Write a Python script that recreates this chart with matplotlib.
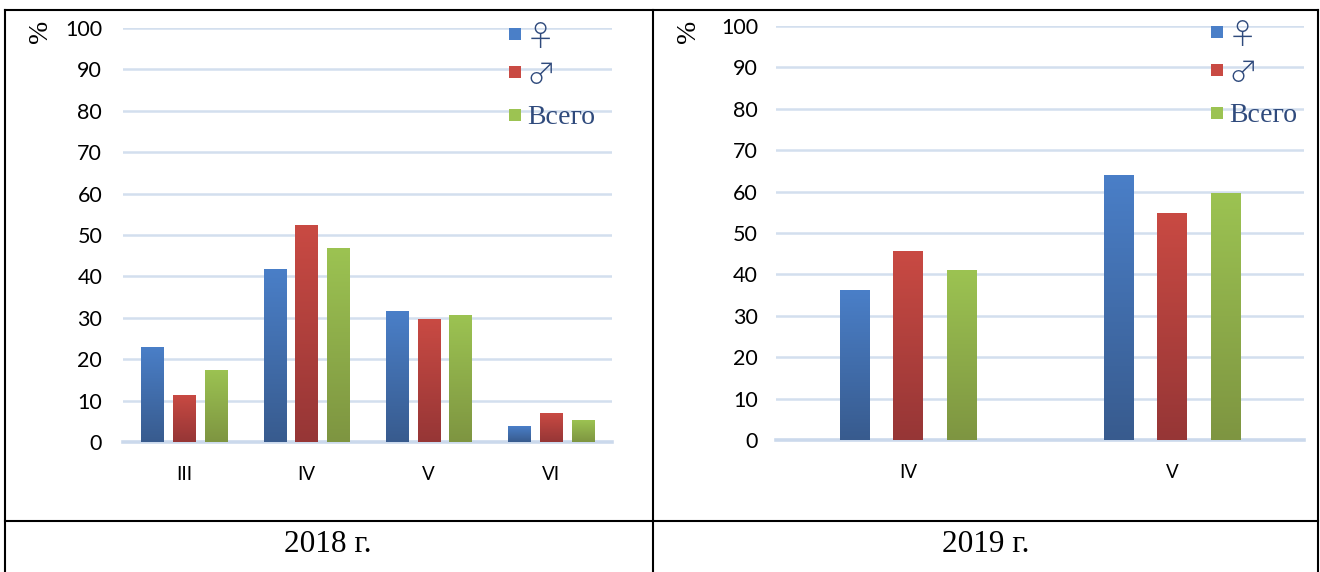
import numpy as np
import matplotlib
matplotlib.use("Agg")
import matplotlib.pyplot as plt
from matplotlib.colors import LinearSegmentedColormap
from matplotlib.lines import Line2D
from matplotlib.patches import Rectangle

W, H = 1320, 572

series = ["♀", "♂", "Всего"]

cats_2018 = ["III", "IV", "V", "VI"]
female_2018 = [23.0, 41.9, 31.6, 3.8]
male_2018 = [11.4, 52.4, 29.7, 7.0]
total_2018 = [17.5, 46.8, 30.6, 5.2]

cats_2019 = ["IV", "V"]
female_2019 = [36.2, 64.1]
male_2019 = [45.6, 54.9]
total_2019 = [41.0, 59.7]

# top / bottom colours of the bar gradients
gradients = [("#4A7FC8", "#385B8E"),
             ("#C94A43", "#963636"),
             ("#9CC352", "#7E9541")]

tick_font = "Lato"
serif = ["Liberation Serif", "DejaVu Sans"]
symbol_font = ["Noto Sans CJK JP", "DejaVu Sans"]
legend_color = "#2F4A7C"

fig = plt.figure(figsize=(W / 100, H / 100), dpi=100)


def px_axes(x0, y0, x1, y1):
    return fig.add_axes([x0 / W, 1 - y1 / H, (x1 - x0) / W, (y1 - y0) / H])


def draw_legend(x, ys):
    # square swatch + label, positions in figure pixels
    for i, y in enumerate(ys):
        fig.add_artist(Rectangle((x / W, 1 - (y + 6) / H), 12 / W, 12 / H,
                                 transform=fig.transFigure,
                                 color=gradients[i][0], lw=0))
        if i < 2:
            fig.text((x + 17) / W, 1 - (y + 4) / H, series[i], ha="left", va="center",
                     fontsize=21, family=symbol_font, weight="light",
                     color=legend_color)
        else:
            fig.text((x + 18) / W, 1 - (y + 3) / H, series[i], ha="left", va="center",
                     fontsize=20, family=serif, color=legend_color)


def draw_panel(ax, cats, values, width, pitch, ypad):
    x = np.arange(len(cats))
    grad = np.linspace(0, 1, 256).reshape(-1, 1)
    for i, (vals, (top, bottom)) in enumerate(zip(values, gradients)):
        bars = ax.bar(x + (i - 1) * pitch, vals, width, color=top,
                      label=series[i], zorder=3)
        cmap = LinearSegmentedColormap.from_list("g%d" % i, [bottom, top])
        for b in bars:
            im = ax.imshow(grad, cmap=cmap, origin="lower", aspect="auto",
                           extent=[b.get_x(), b.get_x() + b.get_width(), 0, b.get_height()],
                           zorder=4)
            im.set_clip_path(b)
    ax.set_xlim(-0.5, len(cats) - 0.5)
    ax.set_ylim(0, 100)
    ax.set_xticks(x)
    ax.set_xticklabels(cats, fontsize=13.5, family=tick_font)
    ax.set_yticks(range(0, 101, 10))
    ax.set_yticklabels([str(v) for v in range(0, 101, 10)], fontsize=15.5, family=tick_font)
    ax.tick_params(axis="both", length=0)
    ax.tick_params(axis="x", pad=17)
    ax.tick_params(axis="y", pad=ypad)
    ax.yaxis.grid(True, color="#D3DFEE", lw=1.8, zorder=0)
    ax.set_axisbelow(True)
    ax.axhline(0, color="#CBD9EC", lw=2.6, zorder=2, clip_on=False)
    for s in ax.spines.values():
        s.set_visible(False)


ax1 = px_axes(123, 28, 612, 442)
draw_panel(ax1, cats_2018, [female_2018, male_2018, total_2018], 0.18, 0.26, 15)
draw_legend(509, [34, 72, 115])

ax2 = px_axes(776, 26, 1304, 440)
draw_panel(ax2, cats_2019, [female_2019, male_2019, total_2019], 0.11, 0.203, 13)
draw_legend(1211, [32, 70, 113])

fig.text(41 / W, 1 - 31 / H, "%", rotation=90, ha="center", va="center",
         fontsize=20, family=serif)
fig.text(689 / W, 1 - 31 / H, "%", rotation=90, ha="center", va="center",
         fontsize=20, family=serif)

fig.text(328 / W, 1 - 545 / H, "2018 г.", ha="center", va="center",
         fontsize=22.5, family=serif)
fig.text(986 / W, 1 - 545 / H, "2019 г.", ha="center", va="center",
         fontsize=22.5, family=serif)


# table borders
def rule(x0, y0, x1, y1):
    fig.add_artist(Line2D([x0 / W, x1 / W], [1 - y0 / H, 1 - y1 / H],
                          transform=fig.transFigure, color="black", lw=1.5))


rule(5, 10, 1318, 10)
rule(5, 521, 1318, 521)
rule(5, 10, 5, 572)
rule(653, 10, 653, 572)
rule(1318, 10, 1318, 572)

fig.savefig("out.png", dpi=100)
